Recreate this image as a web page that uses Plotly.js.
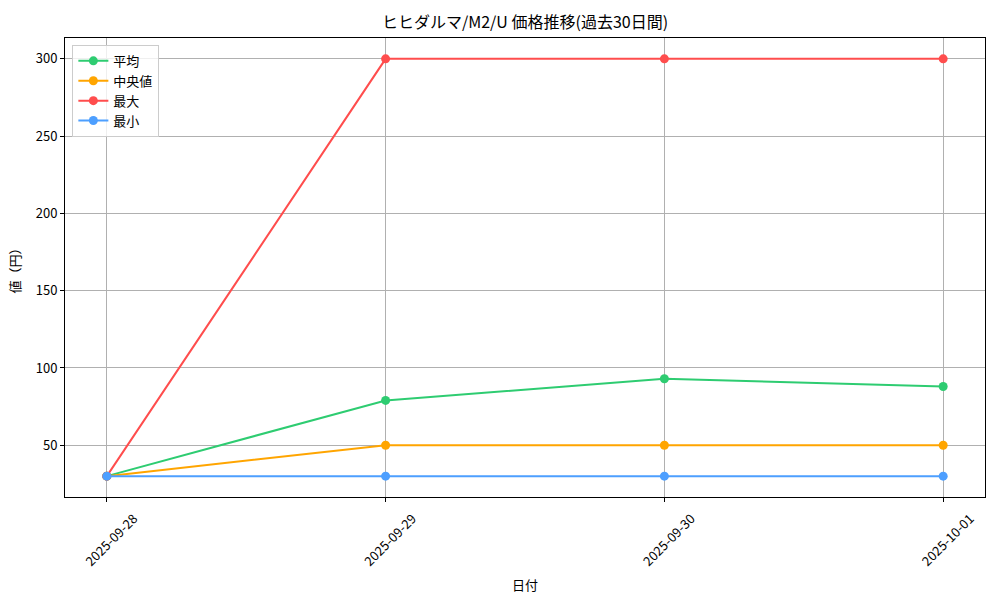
<!DOCTYPE html>
<html><head><meta charset="utf-8">
<script src="https://cdn.plot.ly/plotly-3.0.1.min.js"></script>
<style>body{margin:0}#c{width:1000px;height:600px}</style>
</head><body><div id="c"></div>
<script>
const dates = ["2025-09-28", "2025-09-29", "2025-09-30", "2025-10-01"];
const avgVals = [30, 79, 93, 88];
const medianVals = [30, 50, 50, 50];
const maxVals = [30, 300, 300, 300];
const minVals = [30, 30, 30, 30];
const seriesNames = ["平均", "中央値", "最大", "最小"];
const colors = ["#2ecc71", "#ffa500", "#ff4d4d", "#4d9fff"];
const FONT = "Noto Sans CJK JP, sans-serif";

const xIdx = dates.map((d, i) => i);
const all = [avgVals, medianVals, maxVals, minVals];
const traces = all.map((v, i) => ({
  x: xIdx, y: v, name: seriesNames[i], type: "scatter", mode: "lines+markers",
  line: {color: colors[i], width: 2}, marker: {color: colors[i], size: 9}
}));

const layout = {
  width: 1000, height: 600,
  margin: {l: 65, r: 15, t: 38, b: 103},
  paper_bgcolor: "#fff", plot_bgcolor: "#fff",
  font: {family: FONT, size: 13, color: "#000"},
  title: {text: "ヒヒダルマ/M2/U 価格推移(過去30日間)", x: 0.525, xanchor: "center", y: 0.963, yanchor: "middle", font: {size: 16}},
  xaxis: {
    range: [-0.15, 3.15], tickvals: xIdx, ticktext: dates, tickangle: -45,
    ticklabelshift: 27, ticklabelstandoff: 4,
    showgrid: true, gridcolor: "#b0b0b0", gridwidth: 1,
    showline: true, linecolor: "#000", linewidth: 1, mirror: true,
    ticks: "outside", ticklen: 4, tickcolor: "#000", zeroline: false,
    title: {text: "日付", font: {size: 13}, standoff: 12}
  },
  yaxis: {
    range: [16.5, 313.5], tickvals: [50, 100, 150, 200, 250, 300],
    showgrid: true, gridcolor: "#b0b0b0", gridwidth: 1,
    showline: true, linecolor: "#000", linewidth: 1, mirror: true,
    ticks: "outside", ticklen: 4, tickcolor: "#000", zeroline: false,
    title: {text: "値（円）", font: {size: 13}, standoff: 12}
  },
  legend: {
    x: 0.008, y: 0.985, xanchor: "left", yanchor: "top",
    bgcolor: "rgba(255,255,255,0.8)", bordercolor: "#cccccc", borderwidth: 1,
    font: {size: 13}, tracegroupgap: 0
  },
  showlegend: true
};
Plotly.newPlot("c", traces, layout, {displayModeBar: false, staticPlot: true});
</script>
</body></html>
